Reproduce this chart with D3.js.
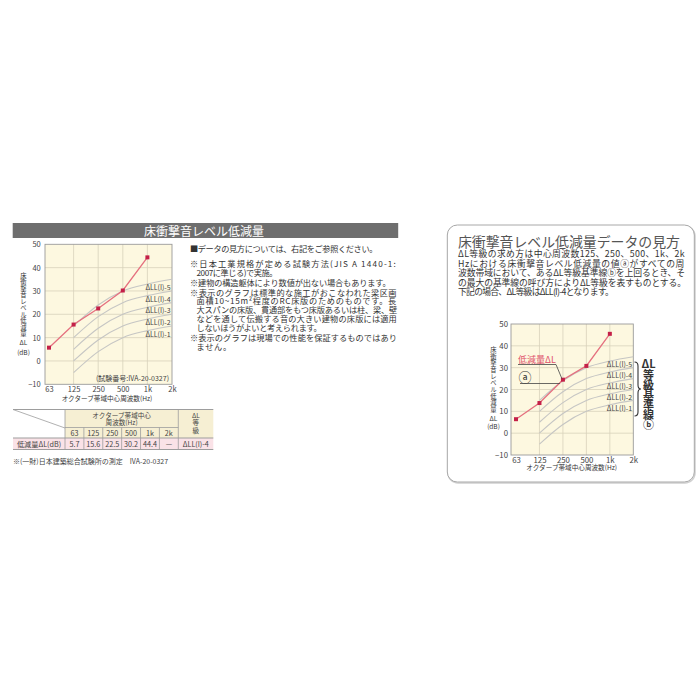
<!DOCTYPE html>
<html><head><meta charset="utf-8">
<script src="https://cdn.jsdelivr.net/npm/d3@7"></script>
<style>body{margin:0;background:#fff;position:relative}svg{display:block}text{font-family:"Noto Sans CJK JP","Noto Sans",sans-serif}</style>
</head><body><svg id="c" width="700" height="700"></svg>
<script>
// ---------------- data ----------------
const freqs = ["63","125","250","500","1k","2k"];
const yTicks = [-10,0,10,20,30,40,50];
const measured = [5.7,15.6,22.5,30.2,44.4];          // 63..1k (2k: —)
const exampleMeasured = [6.4,13.8,24.5,30.8,45.5];   // right-hand explanatory chart
const gradeFreqs = ["125","250","500","1k","2k"];
const gradeNames = ["ΔLL(I)-1","ΔLL(I)-2","ΔLL(I)-3","ΔLL(I)-4","ΔLL(I)-5"];
const grade1 = [-5,4,10,13,15];
const grade2 = [0,9,15,18,20];
const grade3 = [5,14,20,23,25];
const grade4 = [10,19,25,28,30];
const grade5 = [15,24,30,33,35];
const tableValues = ["5.7","15.6","22.5","30.2","44.4","—"];
const resultGrade = "ΔLL(I)-4";
const yTitle = "床衝撃音レベル低減量";
const noteLines = [
 "■データの見方については、右記をご参照ください。",
 "※日本工業規格が定める試験方法(JIS A 1440-1:",
 "2007に準じる)で実施。",
 "※建物の構造躯体により数値が出ない場合もあります。",
 "※表示のグラフは標準的な施工がおこなわれた梁区画",
 "面積10~15m²程度のRC床版のためのものです。長",
 "大スパンの床版、貫通部をもつ床版あるいは柱、梁、壁",
 "などを通して伝搬する音の大きい建物の床版には適用",
 "しないほうがよいと考えられます。",
 "※表示のグラフは現場での性能を保証するものではあり",
 "ません。"
];
const guideLines = [
 "ΔL等級の求め方は中心周波数125、250、500、1k、2k",
 "Hzにおける床衝撃音レベル低減量の値ⓐがすべての周",
 "波数帯域において、あるΔL等級基準線ⓑを上回るとき、そ",
 "の最大の基準線の呼び方によりΔL等級を表すものとする。",
 "下記の場合、ΔL等級はΔLL(I)-4となります。"
];

const grades = [grade1,grade2,grade3,grade4,grade5].map((vals,i)=>({
  name: gradeNames[i], pts: gradeFreqs.map((f,j)=>({f, v: vals[j]}))
}));

const svg = d3.select("#c");
const FONT = '"Noto Sans CJK JP","Noto Sans",sans-serif';
const layer = d3.select("body").append("div").style("position","absolute").style("left","0px")
  .style("top","0px").style("width","700px").style("height","700px").style("pointer-events","none");

function htext(parent, s, x, y, size, opts={}){
  const t = parent.append("text").attr("x",x).attr("y",y).attr("font-size",size)
    .attr("fill",opts.fill||"#333").attr("dominant-baseline","central").text(s);
  if (opts.anchor) t.attr("text-anchor",opts.anchor);
  if (opts.weight) t.attr("font-weight",opts.weight);
  if (opts.w) t.attr("textLength",opts.w).attr("lengthAdjust","spacingAndGlyphs");
  return t;
}
// vertical (top-to-bottom) text in one element
function vtext(parent, s, x, yTop, size, step, opts={}){
  const t = parent.append("text").attr("x",x).attr("y",yTop).attr("font-size",size)
    .attr("fill",opts.fill||"#333").style("writing-mode","vertical-rl")
    .style("letter-spacing",(step-size)+"px").text(s);
  if (opts.weight) t.attr("font-weight",opts.weight);
  return t;
}
// paragraph line: block with line-height = line pitch, width fitted by letter-spacing
function pline(s, x, y, w, size, lh, color){
  const d = layer.append("div").style("position","absolute").style("left",x+"px")
    .style("top",(y-lh/2)+"px").style("height",lh+"px").style("line-height",lh+"px")
    .style("font-size",size+"px").style("font-family",FONT).style("white-space","nowrap")
    .style("color",color||"#333").text(s);
  const nat = d.node().getBoundingClientRect().width;
  const n = [...s].length;
  d.style("letter-spacing",((w-nat)/n)+"px");
  return d;
}

// ---------------- chart drawer ----------------
function drawChart(cfg){
  const g = svg.append("g");
  const x = d3.scalePoint().domain(freqs).range([cfg.x63, cfg.x2k]);
  const y = d3.scaleLinear().domain([-10,50]).range([cfg.yBottom, cfg.yTop]);
  const left = cfg.frameLeft, right = x("2k");
  g.append("rect").attr("x",left).attr("y",y(50)).attr("width",right-left)
    .attr("height",y(-10)-y(50)).attr("fill","#fdf8e0");
  g.selectAll(null).data(yTicks.slice(1,-1)).join("line")
    .attr("x1",left).attr("x2",right).attr("y1",d=>y(d)).attr("y2",d=>y(d))
    .attr("stroke","#d8d2bb").attr("stroke-width",0.8);
  g.selectAll(null).data(freqs.slice(1,-1)).join("line")
    .attr("x1",d=>x(d)).attr("x2",d=>x(d)).attr("y1",y(50)).attr("y2",y(-10))
    .attr("stroke","#d8d2bb").attr("stroke-width",0.8);
  g.append("rect").attr("x",left).attr("y",y(50)).attr("width",right-left)
    .attr("height",y(-10)-y(50)).attr("fill","none").attr("stroke","#9a9a9a").attr("stroke-width",0.9);

  const ay = g.append("g").attr("transform",`translate(${left},0)`)
    .call(d3.axisLeft(y).tickValues(yTicks).tickSize(0).tickPadding(cfg.yPad));
  ay.select(".domain").remove();
  ay.attr("font-family",FONT).attr("font-size",cfg.tickFont);
  ay.selectAll("text").attr("fill","#444");
  const ax = g.append("g").attr("transform",`translate(0,${y(-10)})`)
    .call(d3.axisBottom(x).tickSize(0).tickPadding(cfg.xPad));
  ax.select(".domain").remove();
  ax.attr("font-family",FONT).attr("font-size",cfg.tickFont);
  ax.selectAll("text").attr("fill","#444");

  // grade reference curves
  const curve = d3.line().x(d=>x(d.f)).y(d=>y(d.v)).curve(d3.curveMonotoneX);
  g.selectAll(null).data(grades).join("path")
    .attr("d",d=>curve(d.pts)).attr("fill","none").attr("stroke","#c6c6c4").attr("stroke-width",1.1);
  g.selectAll(null).data(grades).join("text")
    .attr("x",x("1k")+cfg.labelDx).attr("y",d=>y(d.pts[3].v)+3)
    .attr("dominant-baseline","central").attr("font-size",7).attr("fill","#444")
    .text(d=>d.name);

  // measured line
  const pts = cfg.data.map((v,i)=>({f:freqs[i], v}));
  const lin = d3.line().x(d=>x(d.f)).y(d=>y(d.v));
  g.append("path").attr("d",lin(pts)).attr("fill","none").attr("stroke","#e5707f").attr("stroke-width",1.3);
  g.selectAll(null).data(pts).join("rect")
    .attr("x",d=>x(d.f)-2).attr("y",d=>y(d.v)-2).attr("width",4).attr("height",4).attr("fill","#c42048");

  // y title (vertical) + ΔL + (dB)
  vtext(g, yTitle, cfg.titleX, cfg.titleTop, 6.3, cfg.titleStep);
  htext(g, "ΔL", cfg.titleX, cfg.dlY, 6.5, {anchor:"middle"});
  htext(g, "(dB)", cfg.titleX, cfg.dbY, 6.5, {anchor:"middle"});
  // x title
  htext(g, "オクターブ帯域中心周波数(Hz)", cfg.xTitleX, cfg.xTitleY, 6.6, {anchor:"middle"});
  return {g,x,y};
}

// ---------------- left panel ----------------
svg.append("rect").attr("x",12.7).attr("y",223).attr("width",385.5).attr("height",15).attr("fill","#6e6e6e");
htext(svg, "床衝撃音レベル低減量", 204, 230.8, 12, {anchor:"middle", fill:"#fff"});

const L = drawChart({x63:49,x2k:172,frameLeft:45,yTop:244.3,yBottom:384.3,yPad:4.3,xPad:2,tickFont:7.5,
  data:measured,labelDx:-2,titleX:23.5,titleTop:272,titleStep:6.5,dlY:342,dbY:351.5,xTitleX:107,xTitleY:398});
htext(L.g, "(試験番号:IVA-20-0327)", 169, 378, 7, {anchor:"end", fill:"#444"});

// notes
const noteX = [190,190,196.5,190,190,196.5,196.5,196.5,196.5,190,196.5];
const noteY = [248.3,263.3,271.7,281.7,291.7,300.2,309.3,318.3,326.9,336.7,345.8];
const noteW = [187,207,80.5,200.7,207,200.5,200.5,200.5,125,207,35.5];
noteLines.forEach((s,i)=>pline(s, noteX[i], noteY[i], noteW[i], 8.2, 8.4));

// table
const t = svg.append("g");
const c0=13, c1=65, c2=178.3, c3=213.3, r0=409.5, r1=427.5, r2=438, r3=449.5;
const bx = d3.scaleBand().domain(freqs).range([c1,c2]);
t.append("rect").attr("x",c1).attr("y",r0).attr("width",c3-c1).attr("height",r2-r0).attr("fill","#f6efd3");
t.append("rect").attr("x",c0).attr("y",r2).attr("width",c3-c0).attr("height",r3-r2).attr("fill","#fae2e7");
const tl = (x1,y1,x2,y2,w)=>t.append("line").attr("x1",x1).attr("y1",y1).attr("x2",x2).attr("y2",y2)
  .attr("stroke","#9d9d9d").attr("stroke-width",w||0.8);
tl(c0,r0,c3,r0,1); tl(c1,r1,c2,r1); tl(c0,r2,c3,r2,1.2); tl(c0,r3,c3,r3,1);
tl(c1,r0,c1,r3); tl(c2,r0,c2,r3);
freqs.slice(1).forEach(f=>tl(bx(f),r1,bx(f),r3));
tl(c0,r0,c1,428);
htext(t, "オクターブ帯域中心", (c1+c2)/2, 414.6, 6.6, {anchor:"middle", fill:"#444"});
htext(t, "周波数(Hz)", (c1+c2)/2, 422.2, 6.6, {anchor:"middle", fill:"#444"});
t.selectAll(null).data(freqs).join("text").attr("x",d=>bx(d)+bx.bandwidth()/2).attr("y",(r1+r2)/2+0.3)
  .attr("text-anchor","middle").attr("dominant-baseline","central").attr("font-size",7.2).attr("fill","#444").text(d=>d);
t.selectAll(null).data(tableValues).join("text").attr("x",(d,i)=>bx(freqs[i])+bx.bandwidth()/2).attr("y",(r2+r3)/2+0.3)
  .attr("text-anchor","middle").attr("dominant-baseline","central").attr("font-size",7.2).attr("fill","#444").text(d=>d);
htext(t, "ΔL", (c2+c3)/2, 414.8, 6.5, {anchor:"middle", fill:"#444"});
vtext(t, "等級", (c2+c3)/2, 419.6, 6.5, 7.2, {fill:"#444"});
htext(t, "低減量ΔL(dB)", (c0+c1)/2, (r2+r3)/2+0.3, 7.2, {anchor:"middle", fill:"#444"});
htext(t, resultGrade, (c2+c3)/2, (r2+r3)/2+0.3, 7.2, {anchor:"middle", fill:"#444"});
htext(svg, "※(一財)日本建築総合試験所の測定　IVA-20-0327", 13, 460.5, 7, {fill:"#444"});

// ---------------- right panel ----------------
svg.append("rect").attr("x",448).attr("y",226).attr("width",247).attr("height",257).attr("rx",10)
  .attr("fill","none").attr("stroke","#d0d0d0").attr("stroke-width",1.5);
svg.append("rect").attr("x",447.3).attr("y",225).attr("width",247).attr("height",257).attr("rx",10)
  .attr("fill","#fff").attr("stroke","#a8a8a8").attr("stroke-width",1);
htext(svg, "床衝撃音レベル低減量データの見方", 458, 241, 14, {fill:"#555", w:222});
const gY = [254,263.3,272.7,282.2,291.6];
const gW = [227,227,227,228,155];
guideLines.forEach((s,i)=>pline(s, 458, gY[i], gW[i], 8.8, 9.2));

const R = drawChart({x63:516,x2k:633.3,frameLeft:511,yTop:324,yBottom:455,yPad:3,xPad:2.5,tickFont:7.8,
  data:exampleMeasured,labelDx:-3,titleX:493.5,titleTop:346.5,titleStep:6.65,dlY:418.3,dbY:426,xTitleX:571.7,xTitleY:467.3});
// annotations
const ax250 = R.x("250"), ay250 = R.y(exampleMeasured[2]);
htext(R.g, "低減量ΔL", 518, 359.5, 9, {fill:"#e0506a"});
R.g.append("path").attr("d",`M518,364.5H556L${ax250-1},${ay250-1}`).attr("fill","none").attr("stroke","#444").attr("stroke-width",0.8);
htext(R.g, "ⓐ", 525, 376, 13, {anchor:"middle"});
R.g.append("line").attr("x1",520).attr("x2",ax250-3).attr("y1",383.5).attr("y2",383.5).attr("stroke","#444").attr("stroke-width",0.8);
// brace + label
R.g.append("path").attr("d","M634.5,362 Q638,362 638,366 L638,385 Q638,389 641,389 Q638,389 638,393 L638,412 Q638,416 634.5,416")
  .attr("fill","none").attr("stroke","#333").attr("stroke-width",1.1);
htext(R.g, "ΔL", 648.5, 362.5, 11, {anchor:"middle", weight:"bold"});
vtext(R.g, "等級基準線ⓑ", 648.5, 369.2, 11, 10.1, {weight:"bold"});
</script></body></html>
